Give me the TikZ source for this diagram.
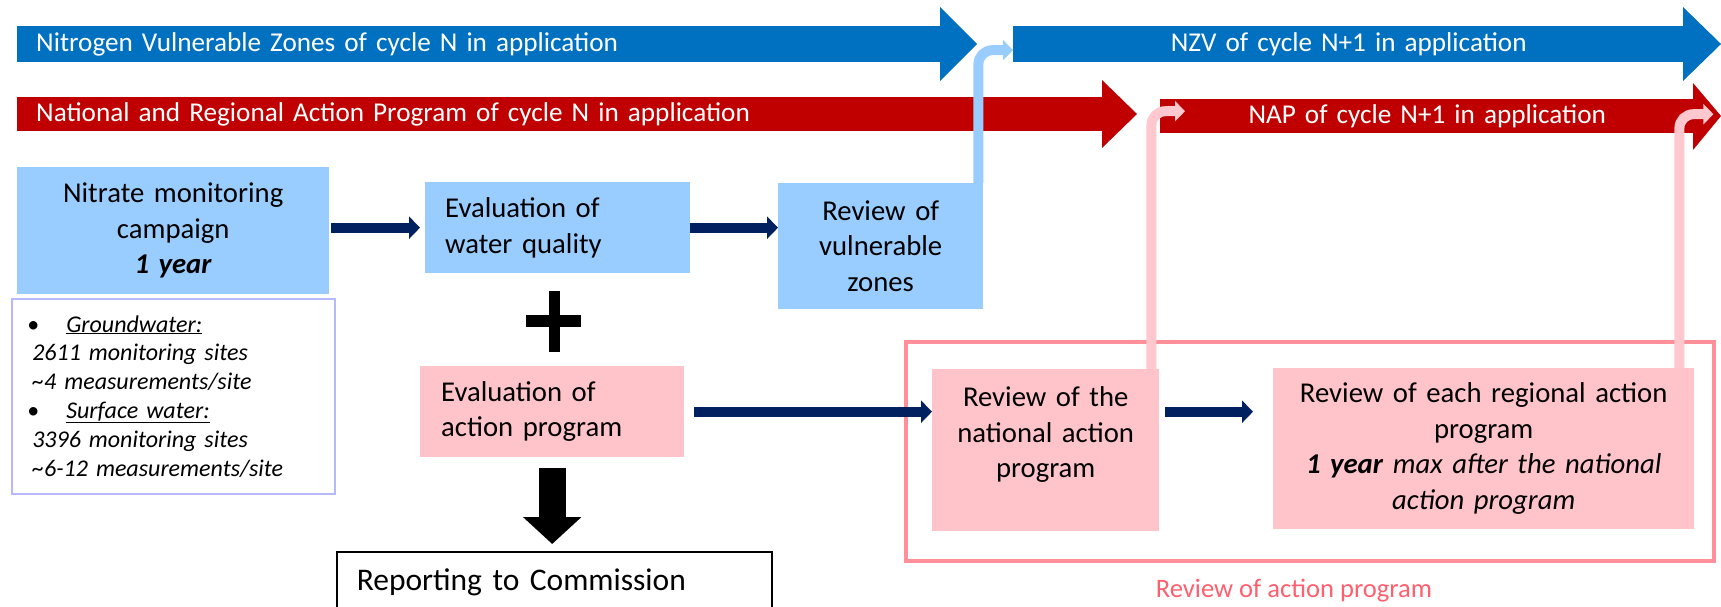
\documentclass[tikz,border=0pt]{standalone}
\usepackage{fontspec}
\setmainfont{Carlito}
\usetikzlibrary{arrows.meta, positioning}

\definecolor{nzvblue}{HTML}{0070C0}
\definecolor{napred}{HTML}{C00000}
\definecolor{boxblue}{HTML}{99CCFF}
\definecolor{boxpink}{HTML}{FFC4CA}
\definecolor{linkpink}{HTML}{FFC7CE}
\definecolor{navy}{HTML}{002060}
\definecolor{frameviolet}{HTML}{B8B8FF}
\definecolor{framepink}{HTML}{FF8F99}
\definecolor{labelpink}{HTML}{FF5F6E}

\newcommand{\boxfont}{\fontsize{28.7}{35.5}\selectfont}
\newcommand{\bannerfont}{\fontsize{27.2}{33}\selectfont}
\newcommand{\notefont}{\fontsize{24}{28.8}\selectfont}
\newcommand{\sitebullet}{\makebox[34pt][l]{\hspace{-5pt}\upshape\textbullet}}

\tikzset{
  banner/.style={anchor=north west, inner sep=0pt, inner xsep=19pt, text=white, font=\bannerfont},
  stepbox/.style={anchor=north west, inner sep=0pt, font=\boxfont},
  flow/.style={-{Triangle[length=11pt, width=22pt]}, line width=10pt, navy},
  link/.style={-{Triangle[length=10pt, width=20pt]}, line width=10pt, rounded corners=14pt},
}

\begin{document}
\begin{tikzpicture}[x=1pt, y=-1pt]
  \clip (0,0) rectangle (1721,607);

  % Banners
  \node[banner, fill=nzvblue, minimum height=36pt, text width=886pt, align=left] (nzvA) at (17,26) {Nitrogen Vulnerable Zones of cycle N in application};
  \fill[nzvblue] (940,7) -- (977,44) -- (940,81) -- cycle;
  \node[banner, fill=nzvblue, minimum height=36pt, text width=633pt, align=center] (nzvB) at (1013,26) {NZV of cycle N+1 in application};
  \fill[nzvblue] (1683,7) -- (1721,44) -- (1683,81) -- cycle;
  \node[banner, fill=napred, minimum height=34pt, text width=1048pt, align=left] (napA) at (17,97) {National and Regional Action Program of cycle N in application};
  \fill[napred] (1102,80) -- (1137,114) -- (1102,148) -- cycle;
  \node[banner, fill=napred, minimum height=34pt, text width=496pt, align=center] (napB) at (1160,99) {NAP of cycle N+1 in application};
  \fill[napred] (1693,83) -- (1721,116) -- (1693,150) -- cycle;

  % Nodes
  \node[stepbox, fill=boxblue, minimum width=312pt, minimum height=127pt, text width=300pt, align=center] (nitrate) at (17,167) {Nitrate monitoring\\campaign\\\textbf{\textit{1 year}}};
  \node[anchor=north west, draw=frameviolet, line width=1.5pt, minimum width=323pt, minimum height=195pt, inner sep=0pt, text width=282pt, align=left, font=\notefont\itshape] (sites) at (11,298)
    {\sitebullet\underline{Groundwater:}\\
     2611 monitoring sites\\
     \textasciitilde 4 measurements/site\\
     \sitebullet\underline{Surface water:}\\
     3396 monitoring sites\\
     \textasciitilde 6-12 measurements/site};
  \node[stepbox, fill=boxblue, minimum width=265pt, minimum height=91pt, text width=225pt, align=left] (evalwater) at (425,182) {Evaluation of\\water quality};
  \node[stepbox, fill=boxblue, minimum width=205pt, minimum height=126pt, text width=190pt, align=center] (vulnrev) at (778,183) {Review of\\vulnerable\\zones};
  \node[stepbox, fill=boxpink, minimum width=264pt, minimum height=91pt, text width=222pt, align=left] (evalaction) at (420,366) {Evaluation of\\action program};
  \node[anchor=north west, draw=framepink, line width=4pt, minimum width=808pt, minimum height=219pt, inner sep=0pt] (reviewframe) at (904,340) {};
  \node[text=labelpink, font=\fontsize{26.6}{32}\selectfont, below=13pt of reviewframe, xshift=-16pt] (framelabel) {Review of action program};
  \node[stepbox, fill=boxpink, minimum width=227pt, minimum height=162pt, text width=215pt, align=center] (natrev) at (932,369) {Review of the\\national action\\program\\\mbox{}};
  \node[stepbox, fill=boxpink, minimum width=421pt, minimum height=161pt, text width=405pt, align=center] (regrev) at (1273,368) {Review of each regional action\\program\\\textbf{\textit{1 year}} \textit{max after the national}\\\textit{action program}};
  \node[stepbox, draw=black, line width=1.5pt, fill=white, minimum width=435pt, minimum height=62pt, text width=395pt, align=left, font=\fontsize{31.5}{36}\selectfont] (report) at (336,551) {Reporting to Commission};

  % Plus sign
  \draw[line width=11pt] (554,291) -- (554,352);
  \draw[line width=12pt] (526,321) -- (581,321);

  % Edges
  \draw[flow, shorten <=2pt, shorten >=5pt] (nitrate.east |- evalwater.west) -- (evalwater.west);
  \draw[flow] (evalwater.east) -- (evalwater.east -| vulnrev.west);
  \draw[flow, shorten <=10pt] (evalaction.east) -- (evalaction.east -| natrev.west);
  \draw[flow, shorten <=6pt, shorten >=20pt] (natrev.east |- evalaction.east) -- (regrev.west |- evalaction.east);
  \draw[line width=27pt, -{Triangle[length=27pt, width=57pt]}, shorten <=11pt, shorten >=7pt] (evalaction.south) -- (evalaction.south |- report.north);

  \draw[link, boxblue] ([xshift=-5pt]vulnrev.north east) |- ([yshift=-6pt]nzvB.west);
  \draw[link, linkpink] ([xshift=-8pt]natrev.north east) |- ([xshift=25pt, yshift=5pt]napB.west);
  \draw[link, linkpink] ([xshift=-15pt]regrev.north east) |- ([xshift=19pt, yshift=2pt]napB.east);

\end{tikzpicture}
\end{document}
